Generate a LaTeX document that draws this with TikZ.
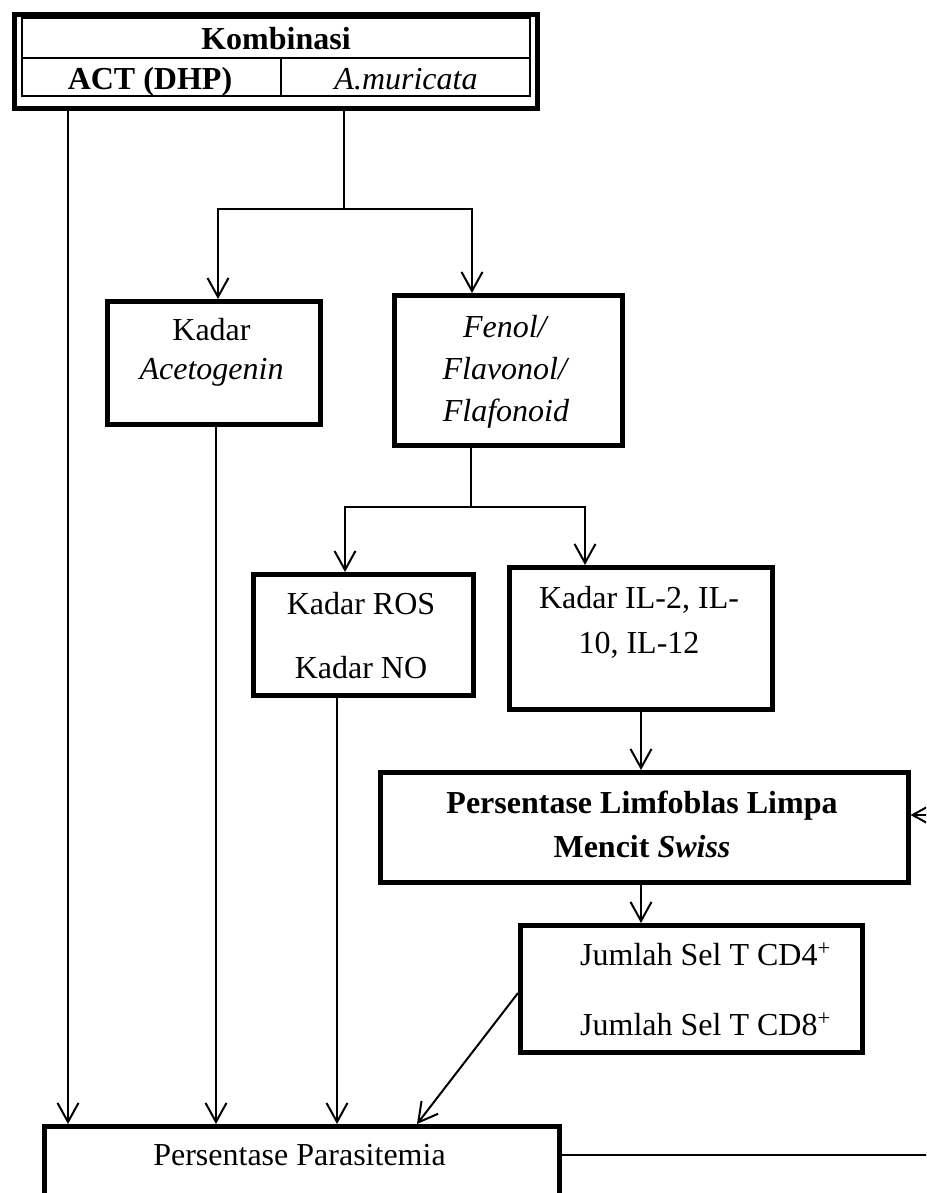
\documentclass[tikz,border=0pt]{standalone}
\usepackage{fontspec}
\setmainfont{Liberation Serif}
\usetikzlibrary{arrows.meta}
\begin{document}
\begin{tikzpicture}[x=1pt,y=-1pt,
  thinline/.style={line width=2pt},
  arr/.style={line width=2pt,-{Straight Barb[length=19pt,width=21pt]}},
  box/.style={draw,line width=4.5pt,inner sep=0pt,anchor=north west},
  txt/.style={font=\fontsize{32}{38}\selectfont,inner sep=0pt,anchor=base}]
\useasboundingbox (0,0) rectangle (926,1193);
\clip (0,0) rectangle (926,1193);
\fill[white] (0,0) rectangle (926,1193);

% top table
\node[box,line width=5pt,minimum width=523pt,minimum height=94pt] (comb) at (12,12) {};
\draw[line width=1.8pt] (22,18) rectangle (530,96);
\draw[line width=1.8pt] (22,58) -- (530,58);
\draw[line width=1.8pt] (281,58) -- (281,96);
\node[txt] (kombi) at (276,50) {\textbf{Kombinasi}};
\node[txt] (actc) at (150,90) {\textbf{ACT (DHP)}};
\node[txt] (murc) at (406,90) {\textit{A.muricata}};

% boxes
\node[box,minimum width=213pt,minimum height=123pt] (aceto) at (105,299) {};
\node[txt] at (211.5,340) {Kadar};
\node[txt] at (211.5,379) {\textit{Acetogenin}};

\node[box,minimum width=228pt,minimum height=150pt] (fenol) at (392,293) {};
\node[txt] at (506,337) {\textit{Fenol/}};
\node[txt] at (506,379) {\textit{Flavonol/}};
\node[txt] at (506,421) {\textit{Flafonoid}};

\node[box,minimum width=220pt,minimum height=121pt] (ros) at (251,572) {};
\node[txt] at (361,614) {Kadar ROS};
\node[txt] at (361,678) {Kadar NO};

\node[box,minimum width=263pt,minimum height=142pt] (il) at (507,565) {};
\node[txt] at (639,608) {Kadar IL-2, IL-};
\node[txt] at (639,653) {10, IL-12};

\node[box,minimum width=528pt,minimum height=110pt] (limf) at (378,770) {};
\node[txt] at (642,813) {\textbf{Persentase Limfoblas Limpa}};
\node[txt] at (642,857) {\textbf{Mencit \textit{Swiss}}};

\node[box,minimum width=342pt,minimum height=127pt] (jum) at (518,923) {};
\node[txt,anchor=base west] at (580,965) {Jumlah Sel T CD4\textsuperscript{+}};
\node[txt,anchor=base west] at (580,1035) {Jumlah Sel T CD8\textsuperscript{+}};

\node[box,minimum width=515pt,minimum height=150pt] (para) at (42,1124) {};
\node[txt] at (299.5,1165) {Persentase Parasitemia};

% connectors
\coordinate (splitA) at (344,209);
\coordinate (splitF) at (471,507);
\coordinate (rin) at (940,815);
\coordinate (pout) at (940,1155);

\draw[arr] (68,0 |- comb.south) -- (68,0 |- para.north);
\draw[thinline] (344,0 |- comb.south) -- (splitA);
\draw[arr] (splitA) -| (218,0 |- aceto.north);
\draw[arr] (splitA) -| (472,0 |- fenol.north);
\draw[arr] (216,0 |- aceto.south) -- (216,0 |- para.north);
\draw[thinline] (471,0 |- fenol.south) -- (splitF);
\draw[arr] (splitF) -| (345,0 |- ros.north);
\draw[arr] (splitF) -| (585,0 |- il.north);
\draw[arr] (337,0 |- ros.south) -- (337,0 |- para.north);
\draw[arr] (641,0 |- il.south) -- (641,0 |- limf.north);
\draw[arr] (641,0 |- limf.south) -- (641,0 |- jum.north);
\draw[arr] (rin) -- (limf.east |- rin);
\draw[arr] (jum.west |- 0,993) -- (417,0 |- para.north);
\draw[thinline] (para.east |- pout) -- (pout);
\end{tikzpicture}
\end{document}
